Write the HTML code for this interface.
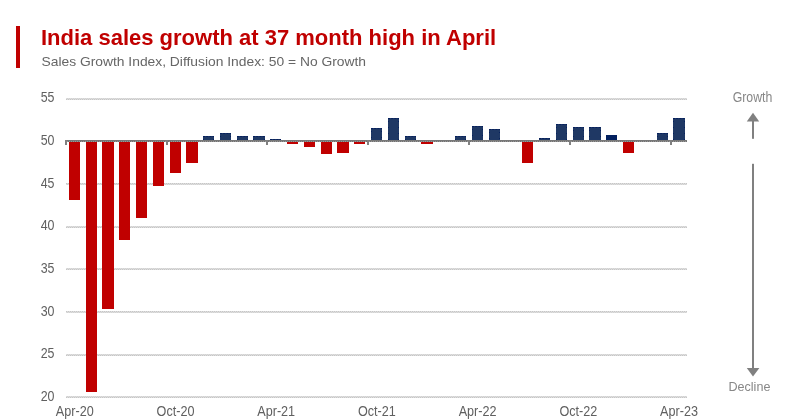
<!DOCTYPE html>
<html><head><meta charset="utf-8"><title>India sales growth at 37 month high in April</title><style>
html,body{margin:0;padding:0;background:#fff;}
body{width:800px;height:420px;overflow:hidden;position:relative;font-family:"Liberation Sans",Arial,sans-serif;}
.bar{position:absolute;left:16px;top:26px;width:4px;height:42px;background:#c00000;}
svg{position:absolute;left:0;top:0;will-change:transform;}
.tk{font-family:"Liberation Sans",Arial,sans-serif;font-size:13.8px;fill:#606060;}
.ar{font-family:"Liberation Sans",Arial,sans-serif;font-size:13.7px;fill:#878787;}
</style></head><body>
<div class="bar"></div>
<svg width="800" height="420" viewBox="0 0 800 420">
<defs><pattern id="ck" x="0" y="0" width="2" height="2" patternUnits="userSpaceOnUse"><rect width="2" height="2" fill="#dedede"/><rect x="0" y="1" width="1" height="1" fill="#c6c6c6"/><rect x="1" y="0" width="1" height="1" fill="#d2d2d2"/></pattern><pattern id="ax" x="0" y="0" width="2" height="2" patternUnits="userSpaceOnUse"><rect width="2" height="2" fill="#989898"/><rect width="1" height="2" fill="#727272"/></pattern></defs>
<text x="41" y="44.6" style="font-family:'Liberation Sans',Arial,sans-serif;font-weight:bold;font-size:22px;fill:#c00000">India sales growth at 37 month high in April</text>
<text transform="translate(41.5,65.8) scale(1.117,1)" style="font-family:'Liberation Sans',Arial,sans-serif;font-size:12.4px;fill:#666666">Sales Growth Index, Diffusion Index: 50 = No Growth</text>
<rect x="66.0" y="98" width="621.0" height="2" fill="url(#ck)"/>
<rect x="66.0" y="183" width="621.0" height="2" fill="url(#ck)"/>
<rect x="66.0" y="226" width="621.0" height="2" fill="url(#ck)"/>
<rect x="66.0" y="268" width="621.0" height="2" fill="url(#ck)"/>
<rect x="66.0" y="311" width="621.0" height="2" fill="url(#ck)"/>
<rect x="66.0" y="354" width="621.0" height="2" fill="url(#ck)"/>
<rect x="66.0" y="396" width="621.0" height="2" fill="url(#ck)"/>
<text transform="translate(54.5,102.10) scale(0.9,1)" text-anchor="end" class="tk">55</text>
<text transform="translate(54.5,144.81) scale(0.9,1)" text-anchor="end" class="tk">50</text>
<text transform="translate(54.5,187.52) scale(0.9,1)" text-anchor="end" class="tk">45</text>
<text transform="translate(54.5,230.23) scale(0.9,1)" text-anchor="end" class="tk">40</text>
<text transform="translate(54.5,272.94) scale(0.9,1)" text-anchor="end" class="tk">35</text>
<text transform="translate(54.5,315.65) scale(0.9,1)" text-anchor="end" class="tk">30</text>
<text transform="translate(54.5,358.36) scale(0.9,1)" text-anchor="end" class="tk">25</text>
<text transform="translate(54.5,401.07) scale(0.9,1)" text-anchor="end" class="tk">20</text>
<rect x="69" y="141" width="11" height="59" fill="#c00000"/>
<rect x="86" y="141" width="11" height="251" fill="#c00000"/>
<rect x="102" y="141" width="12" height="168" fill="#c00000"/>
<rect x="119" y="141" width="11" height="99" fill="#c00000"/>
<rect x="136" y="141" width="11" height="77" fill="#c00000"/>
<rect x="153" y="141" width="11" height="45" fill="#c00000"/>
<rect x="170" y="141" width="11" height="32" fill="#c00000"/>
<rect x="186" y="141" width="12" height="22" fill="#c00000"/>
<rect x="203" y="136" width="11" height="5" fill="#1f3864"/>
<path d="M203,136.5H214" stroke="#06205e" stroke-width="1" stroke-dasharray="2 1.2" fill="none"/>
<path d="M203.5,139V140M213.5,139V140" stroke="#06205e" stroke-width="1" stroke-dasharray="1 5" fill="none"/>
<rect x="220" y="133" width="11" height="8" fill="#1f3864"/>
<path d="M220,133.5H231" stroke="#06205e" stroke-width="1" stroke-dasharray="2 1.2" fill="none"/>
<path d="M220.5,136V140M230.5,136V140" stroke="#06205e" stroke-width="1" stroke-dasharray="1 5" fill="none"/>
<rect x="237" y="136" width="11" height="5" fill="#1f3864"/>
<path d="M237,136.5H248" stroke="#06205e" stroke-width="1" stroke-dasharray="2 1.2" fill="none"/>
<path d="M237.5,139V140M247.5,139V140" stroke="#06205e" stroke-width="1" stroke-dasharray="1 5" fill="none"/>
<rect x="253" y="136" width="12" height="5" fill="#1f3864"/>
<path d="M253,136.5H265" stroke="#06205e" stroke-width="1" stroke-dasharray="2 1.2" fill="none"/>
<path d="M253.5,139V140M264.5,139V140" stroke="#06205e" stroke-width="1" stroke-dasharray="1 5" fill="none"/>
<rect x="270" y="139" width="11" height="2" fill="#1f3864"/>
<path d="M270,139.5H281" stroke="#06205e" stroke-width="1" stroke-dasharray="2 1.2" fill="none"/>
<path d="M270.5,142V140M280.5,142V140" stroke="#06205e" stroke-width="1" stroke-dasharray="1 5" fill="none"/>
<rect x="287" y="141" width="11" height="3" fill="#c00000"/>
<rect x="304" y="141" width="11" height="6" fill="#c00000"/>
<rect x="321" y="141" width="11" height="13" fill="#c00000"/>
<rect x="337" y="141" width="12" height="12" fill="#c00000"/>
<rect x="354" y="141" width="11" height="3" fill="#c00000"/>
<rect x="371" y="128" width="11" height="13" fill="#1f3864"/>
<path d="M371,128.5H382" stroke="#06205e" stroke-width="1" stroke-dasharray="2 1.2" fill="none"/>
<path d="M371.5,131V140M381.5,131V140" stroke="#06205e" stroke-width="1" stroke-dasharray="1 5" fill="none"/>
<rect x="388" y="118" width="11" height="23" fill="#1f3864"/>
<path d="M388,118.5H399" stroke="#06205e" stroke-width="1" stroke-dasharray="2 1.2" fill="none"/>
<path d="M388.5,121V140M398.5,121V140" stroke="#06205e" stroke-width="1" stroke-dasharray="1 5" fill="none"/>
<rect x="405" y="136" width="11" height="5" fill="#1f3864"/>
<path d="M405,136.5H416" stroke="#06205e" stroke-width="1" stroke-dasharray="2 1.2" fill="none"/>
<path d="M405.5,139V140M415.5,139V140" stroke="#06205e" stroke-width="1" stroke-dasharray="1 5" fill="none"/>
<rect x="421" y="141" width="12" height="3" fill="#c00000"/>
<rect x="455" y="136" width="11" height="5" fill="#1f3864"/>
<path d="M455,136.5H466" stroke="#06205e" stroke-width="1" stroke-dasharray="2 1.2" fill="none"/>
<path d="M455.5,139V140M465.5,139V140" stroke="#06205e" stroke-width="1" stroke-dasharray="1 5" fill="none"/>
<rect x="472" y="126" width="11" height="15" fill="#1f3864"/>
<path d="M472,126.5H483" stroke="#06205e" stroke-width="1" stroke-dasharray="2 1.2" fill="none"/>
<path d="M472.5,129V140M482.5,129V140" stroke="#06205e" stroke-width="1" stroke-dasharray="1 5" fill="none"/>
<rect x="489" y="129" width="11" height="12" fill="#1f3864"/>
<path d="M489,129.5H500" stroke="#06205e" stroke-width="1" stroke-dasharray="2 1.2" fill="none"/>
<path d="M489.5,132V140M499.5,132V140" stroke="#06205e" stroke-width="1" stroke-dasharray="1 5" fill="none"/>
<rect x="522" y="141" width="11" height="22" fill="#c00000"/>
<rect x="539" y="138" width="11" height="3" fill="#1f3864"/>
<path d="M539,138.5H550" stroke="#06205e" stroke-width="1" stroke-dasharray="2 1.2" fill="none"/>
<path d="M539.5,141V140M549.5,141V140" stroke="#06205e" stroke-width="1" stroke-dasharray="1 5" fill="none"/>
<rect x="556" y="124" width="11" height="17" fill="#1f3864"/>
<path d="M556,124.5H567" stroke="#06205e" stroke-width="1" stroke-dasharray="2 1.2" fill="none"/>
<path d="M556.5,127V140M566.5,127V140" stroke="#06205e" stroke-width="1" stroke-dasharray="1 5" fill="none"/>
<rect x="573" y="127" width="11" height="14" fill="#1f3864"/>
<path d="M573,127.5H584" stroke="#06205e" stroke-width="1" stroke-dasharray="2 1.2" fill="none"/>
<path d="M573.5,130V140M583.5,130V140" stroke="#06205e" stroke-width="1" stroke-dasharray="1 5" fill="none"/>
<rect x="589" y="127" width="12" height="14" fill="#1f3864"/>
<path d="M589,127.5H601" stroke="#06205e" stroke-width="1" stroke-dasharray="2 1.2" fill="none"/>
<path d="M589.5,130V140M600.5,130V140" stroke="#06205e" stroke-width="1" stroke-dasharray="1 5" fill="none"/>
<rect x="606" y="135" width="11" height="6" fill="#03205f"/>
<rect x="623" y="141" width="11" height="12" fill="#c00000"/>
<rect x="657" y="133" width="11" height="8" fill="#1f3864"/>
<path d="M657,133.5H668" stroke="#06205e" stroke-width="1" stroke-dasharray="2 1.2" fill="none"/>
<path d="M657.5,136V140M667.5,136V140" stroke="#06205e" stroke-width="1" stroke-dasharray="1 5" fill="none"/>
<rect x="673" y="118" width="12" height="23" fill="#1f3864"/>
<path d="M673,118.5H685" stroke="#06205e" stroke-width="1" stroke-dasharray="2 1.2" fill="none"/>
<path d="M673.5,121V140M684.5,121V140" stroke="#06205e" stroke-width="1" stroke-dasharray="1 5" fill="none"/>
<rect x="65" y="140" width="622.0" height="1" fill="#787878"/>
<rect x="65" y="141" width="622.0" height="1" fill="url(#ax)"/>
<rect x="65" y="140" width="2" height="5" fill="#808080"/>
<rect x="166" y="140" width="2" height="5" fill="#808080"/>
<rect x="266" y="140" width="2" height="5" fill="#808080"/>
<rect x="367" y="140" width="2" height="5" fill="#808080"/>
<rect x="468" y="140" width="2" height="5" fill="#808080"/>
<rect x="569" y="140" width="2" height="5" fill="#808080"/>
<rect x="670" y="140" width="2" height="5" fill="#808080"/>
<text transform="translate(74.79,415.9) scale(0.915,1)" text-anchor="middle" class="tk">Apr-20</text>
<text transform="translate(175.49,415.9) scale(0.915,1)" text-anchor="middle" class="tk">Oct-20</text>
<text transform="translate(276.20,415.9) scale(0.915,1)" text-anchor="middle" class="tk">Apr-21</text>
<text transform="translate(376.90,415.9) scale(0.915,1)" text-anchor="middle" class="tk">Oct-21</text>
<text transform="translate(477.60,415.9) scale(0.915,1)" text-anchor="middle" class="tk">Apr-22</text>
<text transform="translate(578.31,415.9) scale(0.915,1)" text-anchor="middle" class="tk">Oct-22</text>
<text transform="translate(679.01,415.9) scale(0.915,1)" text-anchor="middle" class="tk">Apr-23</text>
<text transform="translate(752.5,101.6) scale(0.88,1)" text-anchor="middle" class="ar" style="font-size:14px">Growth</text>
<polygon points="753,112.8 759.2,121.4 746.8,121.4" fill="#808080"/>
<rect x="752" y="121" width="2" height="17.8" fill="#808080"/>
<rect x="752" y="163.8" width="2" height="205" fill="#808080"/>
<polygon points="746.8,368.1 759.4,368.1 753,376.6" fill="#808080"/>
<text transform="translate(749.4,390.8) scale(0.919,1)" text-anchor="middle" class="ar">Decline</text>
</svg>
</body></html>
